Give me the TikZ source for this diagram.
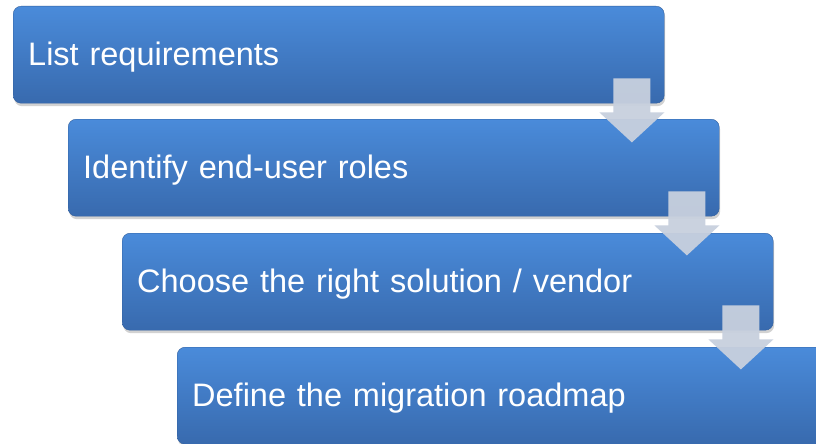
\documentclass[tikz,border=0pt]{standalone}
\usepackage{fontspec}
\setmainfont{Liberation Sans}
\usetikzlibrary{shadows,calc}
\definecolor{boxtop}{HTML}{4A8BDA}
\definecolor{boxbot}{HTML}{386AAE}
\definecolor{arrowfill}{HTML}{C8D0DE}
\tikzset{
  stepbox/.style={anchor=north west, rounded corners=8pt, top color=boxtop, bottom color=boxbot,
    draw=boxbot!90!black, line width=0.4pt,
    text height=59pt, text depth=38pt, text width=621pt, inner xsep=15pt, inner ysep=0pt, align=left,
    text=white, font=\fontsize{32.5}{38}\selectfont,
    drop shadow={opacity=0.35, shadow xshift=1pt, shadow yshift=-3pt}},
  downarrow/.style={fill=arrowfill, fill opacity=0.95}
}
\begin{document}
\begin{tikzpicture}[x=1pt,y=-1pt]
\clip (0,0) rectangle (816,444);
\fill[white] (0,0) rectangle (816,444);
\node[stepbox] (b1) at (13,6) {List requirements};
\node[stepbox] (b2) at (68,119) {Identify end-user roles};
\node[stepbox] (b3) at (122,233) {Choose the right solution / vendor};
\node[stepbox] (b4) at (177,347) {Define the migration roadmap};
\foreach \b in {b1,b2,b3}{
  \coordinate (c) at ($(\b.south east)+(-32.5,0)$);
  \fill[downarrow] ($(c)+(-18.5,-25)$) -- ($(c)+(18.5,-25)$) -- ($(c)+(18.5,9)$)
     -- ($(c)+(32.5,9)$) -- ($(c)+(0,39)$) -- ($(c)+(-32.5,9)$) -- ($(c)+(-18.5,9)$) -- cycle;
}
\end{tikzpicture}
\end{document}
